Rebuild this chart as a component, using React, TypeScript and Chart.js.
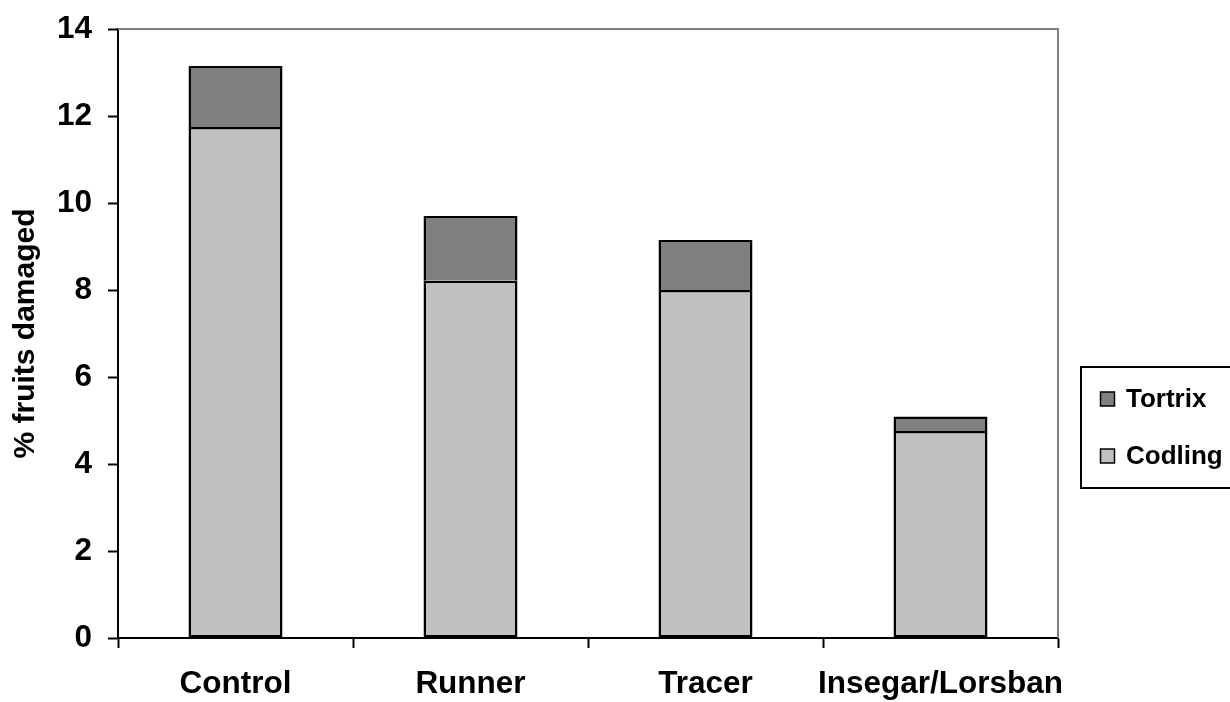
import React, { useEffect, useRef } from "react";
import { Chart, registerables } from "chart.js";

Chart.register(...registerables);

const categories = ["Control", "Runner", "Tracer", "Insegar/Lorsban"];
const codlingValues = [11.75, 8.21, 8.0, 4.76];
const tortrixValues = [1.4, 1.49, 1.15, 0.33];
const seriesNames = ["Codling", "Tortrix"];
const seriesColors = ["#C0C0C0", "#808080"];
const yAxisTitle = "% fruits damaged";

const FONT = "'Liberation Sans', Arial, sans-serif";

const framePlugin = {
  id: "frameLines",
  afterDraw(chart: any) {
    const { ctx, chartArea } = chart;
    ctx.save();
    ctx.strokeStyle = "#808080";
    ctx.lineWidth = 2;
    ctx.beginPath();
    ctx.moveTo(chartArea.left, chartArea.top);
    ctx.lineTo(chartArea.right, chartArea.top);
    ctx.lineTo(chartArea.right, chartArea.bottom);
    ctx.stroke();
    ctx.restore();
  },
};

const boxLegendPlugin = {
  id: "boxLegend",
  afterDraw(chart: any) {
    const { ctx, chartArea } = chart;
    const left = chartArea.right + 23;
    const top = 367;
    const w = 150;
    const h = 121;
    ctx.save();
    ctx.fillStyle = "#ffffff";
    ctx.fillRect(left, top, w, h);
    ctx.strokeStyle = "#000000";
    ctx.lineWidth = 2;
    ctx.strokeRect(left, top, w, h);
    const datasets = chart.data.datasets.slice().reverse();
    ctx.font = `bold 26px ${FONT}`;
    ctx.textBaseline = "middle";
    ctx.textAlign = "left";
    datasets.forEach((ds: any, i: number) => {
      const cy = top + 32 + i * 57;
      ctx.fillStyle = ds.backgroundColor;
      ctx.fillRect(left + 19.5, cy - 7, 14, 14);
      ctx.strokeStyle = "#000000";
      ctx.lineWidth = 1.5;
      ctx.strokeRect(left + 19.5, cy - 7, 14, 14);
      ctx.fillStyle = "#000000";
      ctx.fillText(ds.label, left + 45, cy + 1);
    });
    ctx.restore();
  },
};

export default function App() {
  const ref = useRef<HTMLCanvasElement>(null);

  useEffect(() => {
    if (!ref.current) return;
    const chart = new Chart(ref.current, {
      type: "bar",
      data: {
        labels: categories,
        datasets: [
          {
            label: seriesNames[0],
            data: codlingValues,
            backgroundColor: seriesColors[0],
            borderColor: "#000000",
            borderWidth: 2.5,
            borderSkipped: false,
            inflateAmount: 0,
            barPercentage: 0.4,
            categoryPercentage: 1,
          },
          {
            label: seriesNames[1],
            data: tortrixValues,
            backgroundColor: seriesColors[1],
            borderColor: "#000000",
            borderWidth: 2.5,
            borderSkipped: "bottom",
            inflateAmount: 0,
            barPercentage: 0.4,
            categoryPercentage: 1,
          },
        ],
      },
      options: {
        responsive: false,
        animation: false,
        layout: { autoPadding: false, padding: { top: 29, right: 172, left: 0, bottom: 0 } },
        plugins: {
          legend: { display: false },
          tooltip: { enabled: false },
        },
        scales: {
          x: {
            stacked: true,
            grid: {
              display: true,
              offset: true,
              drawOnChartArea: false,
              drawTicks: true,
              tickLength: 10,
              tickWidth: 2,
              tickColor: "#000000",
            },
            border: { display: true, color: "#000000", width: 2 },
            ticks: {
              color: "#000000",
              font: { family: FONT, size: 31.5, weight: "bold" },
              padding: 17,
              maxRotation: 0,
              autoSkip: false,
            },
            afterFit(scale: any) {
              scale.height = 64;
              scale.paddingLeft = 0;
              scale.paddingRight = 0;
            },
          },
          y: {
            stacked: true,
            min: 0,
            max: 14,
            grid: {
              display: true,
              drawOnChartArea: false,
              drawTicks: true,
              tickLength: 10,
              tickWidth: 2,
              tickColor: "#000000",
            },
            border: { display: true, color: "#000000", width: 2 },
            ticks: {
              stepSize: 2,
              color: "#000000",
              font: { family: FONT, size: 31.5, weight: "bold" },
              padding: 16,
            },
            title: {
              display: true,
              text: yAxisTitle,
              color: "#000000",
              font: { family: FONT, size: 30, weight: "bold" },
              padding: { top: 8, bottom: 0 },
            },
            afterFit(scale: any) {
              scale.width = 118;
              scale.paddingTop = 0;
              scale.paddingBottom = 0;
            },
          },
        },
      },
      plugins: [framePlugin, boxLegendPlugin],
    });
    return () => chart.destroy();
  }, []);

  return (
    <div style={{ position: "fixed", left: 0, top: 0, width: 1230, height: 702, background: "#fff" }}>
      <canvas ref={ref} width={1230} height={702} />
    </div>
  );
}
